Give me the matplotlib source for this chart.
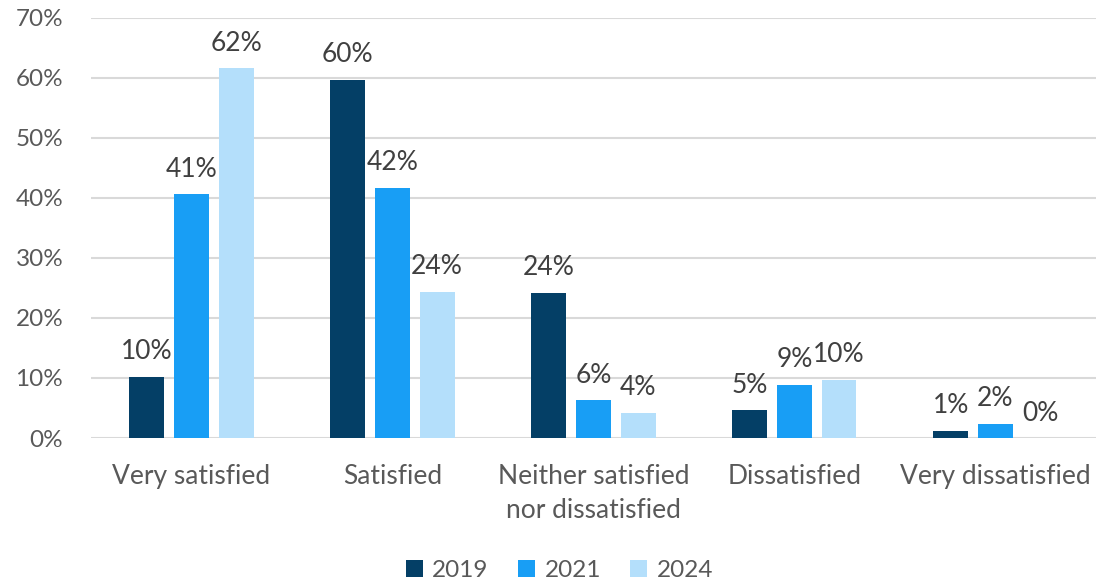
import numpy as np
import matplotlib.pyplot as plt

# survey answers, share of respondents in %
categories = ["Very satisfied", "Satisfied", "Neither satisfied\nnor dissatisfied",
              "Dissatisfied", "Very dissatisfied"]
years = ["2019", "2021", "2024"]
share_2019 = [10.2, 59.7, 24.2, 4.6, 1.2]
share_2021 = [40.6, 41.7, 6.3, 8.9, 2.4]
share_2024 = [61.6, 24.4, 4.2, 9.7, 0.0]

colors = ["#043F66", "#189EF5", "#B4DFFB"]

plt.rcParams['font.family'] = ['Lato', 'DejaVu Sans']

fig = plt.figure(figsize=(11.19, 5.88), dpi=100)
ax = fig.add_axes([0.0813, 0.2551, 0.898, 0.7143])

x = np.arange(len(categories))
step = 0.222
width = 0.174

for i, (vals, year) in enumerate(zip([share_2019, share_2021, share_2024], years)):
    pos = x + (i - 1) * step
    bars = ax.bar(pos, vals, width, color=colors[i], label=year, zorder=3)
    for b, v in zip(bars, vals):
        ax.annotate(f"{v:.0f}%", (b.get_x() + b.get_width() / 2, v),
                    xytext=(0, 9), textcoords="offset points",
                    ha="center", va="bottom", fontsize=19, color="#404040")

ax.set_xlim(-0.5, len(categories) - 0.5)
ax.set_ylim(0, 70)
ax.set_yticks(range(0, 71, 10))
ax.set_yticklabels([f"{t}%" for t in range(0, 71, 10)], fontsize=17.5, color="#595959")
ax.set_xticks(x)
ax.set_xticklabels(categories, fontsize=19, color="#595959", linespacing=1.45)
ax.tick_params(length=0, axis="x", pad=19)
ax.tick_params(length=0, axis="y", pad=20)

ax.grid(axis="y", color="#D9D9D9", linewidth=1.5, zorder=0)
for s in ax.spines.values():
    s.set_visible(False)

fig.legend(loc="lower center", bbox_to_anchor=(0.5, -0.025), ncol=3, frameon=False,
           fontsize=17.5, handlelength=0.7, handleheight=0.7, columnspacing=1.2,
           handletextpad=0.4, labelcolor="#595959")

fig.savefig("out.png", dpi=100)
